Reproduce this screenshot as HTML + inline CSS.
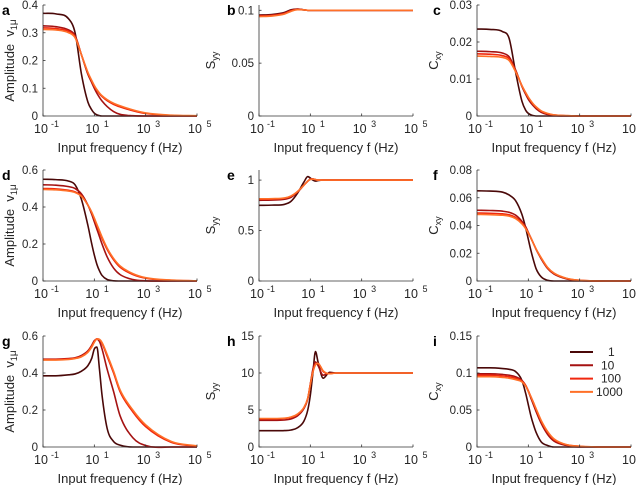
<!DOCTYPE html>
<html><head><meta charset="utf-8"><style>
body{margin:0;background:#fff;}
svg{display:block;font-family:"Liberation Sans",sans-serif;}
</style></head><body>
<svg id="fig" width="640" height="485" viewBox="0 0 640 485"></svg>
<script>
const logFreqs = [-1,-0.5,0,0.25,0.5,0.75,0.9,1,1.1,1.2,1.3,1.5,1.75,2,2.5,3,4,5];
const seriesNames = ['1','10','100','1000'];
const colors = ['#4a0808','#a51212','#f0280f','#ff7028'];
const a1=[.37,.368,.35,.3,.15,.05,.022,.01,.004,.001,0,0,0,0,0,0,0,0];
const a10=[.325,.322,.31,.29,.22,.15,.12,.1,.082,.067,.054,.034,.016,.006,.001,0,0,0];
const a100=[.318,.315,.305,.285,.22,.155,.125,.107,.092,.08,.07,.055,.042,.033,.019,.009,.002,0];
const a1000=[.312,.31,.3,.282,.22,.157,.128,.11,.095,.083,.073,.059,.046,.037,.022,.011,.003,.001];
const b1=[.0955,.096,.098,.1005,.1012,.1003,.1,.1,.1,.1,.1,.1,.1,.1,.1,.1,.1,.1];
const b10=[.095,.0955,.0975,.1,.101,.1005,.1,.1,.1,.1,.1,.1,.1,.1,.1,.1,.1,.1];
const b100=[.0945,.095,.097,.0995,.1008,.1004,.1,.1,.1,.1,.1,.1,.1,.1,.1,.1,.1,.1];
const b1000=[.094,.0945,.0965,.099,.1006,.1004,.1,.1,.1,.1,.1,.1,.1,.1,.1,.1,.1,.1];
const c1=[.0235,.0234,.0228,.021,.012,.004,.0015,.0007,.0003,.0001,0,0,0,0,0,0,0,0];
const c10=[.0175,.0174,.017,.016,.0125,.008,.0058,.0045,.0035,.0027,.002,.001,.0004,.0001,0,0,0,0];
const c100=[.0168,.0167,.0163,.0155,.0122,.0082,.0062,.005,.004,.0031,.0024,.0013,.0006,.0003,.0001,0,0,0];
const c1000=[.0162,.0161,.0158,.015,.012,.0082,.0063,.0051,.0041,.0032,.0025,.0014,.0007,.0003,.0001,0,0,0];
const d1=[.55,.548,.54,.52,.44,.3,.2,.14,.09,.055,.03,.008,.001,0,0,0,0,0];
const d10=[.52,.518,.51,.5,.47,.41,.36,.32,.28,.24,.2,.13,.07,.035,.008,.001,0,0];
const d100=[.5,.498,.49,.482,.46,.41,.37,.335,.3,.265,.23,.17,.115,.075,.035,.015,.004,.001];
const d1000=[.495,.493,.486,.478,.457,.41,.372,.34,.306,.272,.238,.178,.122,.082,.04,.018,.005,.001];
const e1=[.75,.752,.76,.79,.87,.98,1.035,1.02,1.0,.99,.995,1,1,1,1,1,1,1];
const e10=[.8,.802,.81,.83,.88,.95,.99,1.01,1.012,1.005,1,1,1,1,1,1,1,1];
const e100=[.81,.812,.82,.84,.885,.95,.99,1.008,1.01,1.005,1,1,1,1,1,1,1,1];
const e1000=[.815,.816,.823,.843,.887,.95,.99,1.006,1.01,1.005,1,1,1,1,1,1,1,1];
const f1=[.065,.0648,.064,.062,.058,.048,.038,.03,.022,.015,.009,.003,.0005,0,0,0,0,0];
const f10=[.051,.0508,.0503,.0495,.0475,.043,.039,.035,.031,.027,.023,.016,.009,.005,.0015,.0003,0,0];
const f100=[.049,.0488,.0484,.0477,.0458,.0418,.038,.0345,.031,.027,.023,.0165,.0095,.0055,.0018,.0005,0,0];
const f1000=[.048,.0478,.0474,.0468,.045,.0412,.0376,.0343,.031,.027,.0232,.0168,.0098,.0057,.0019,.0005,0,0];
const g1=[.385,.385,.39,.395,.41,.44,.48,.53,.54,.42,.28,.1,.03,.01,0,0,0,0];
const g10=[.475,.475,.478,.482,.495,.52,.55,.575,.583,.57,.53,.42,.3,.17,.05,.008,0,0];
const g100=[.473,.473,.476,.48,.49,.515,.545,.57,.585,.58,.56,.49,.4,.3,.19,.11,.025,.004];
const g1000=[.47,.47,.473,.478,.488,.512,.54,.566,.583,.582,.565,.5,.41,.31,.2,.12,.03,.006];
const h1=[2.2,2.2,2.22,2.3,2.6,3.5,5,7,10,12.9,11.5,9.3,10.1,10,10,10,10,10];
const h10=[3.6,3.6,3.65,3.8,4.2,5.2,6.5,8.5,10.5,11.5,11,9.7,10,10,10,10,10,10];
const h100=[3.8,3.8,3.85,4,4.4,5.3,6.6,8.5,10.2,11.2,11.3,10.2,9.9,10,10,10,10,10];
const h1000=[3.85,3.85,3.9,4.05,4.45,5.35,6.6,8.4,10.1,11.1,11.3,10.3,9.9,10,10,10,10,10];
const i1=[.107,.107,.106,.105,.102,.09,.072,.057,.042,.03,.02,.007,.002,0,0,0,0,0];
const i10=[.099,.099,.098,.097,.095,.09,.083,.075,.066,.057,.048,.032,.017,.008,.002,0,0,0];
const i100=[.097,.097,.096,.095,.093,.089,.083,.076,.068,.06,.051,.035,.02,.01,.003,.001,0,0];
const i1000=[.095,.095,.094,.093,.091,.088,.082,.075,.068,.06,.052,.036,.021,.011,.003,.001,0,0];
const ticksA=['0','0.1','0.2','0.3','0.4'];
const ticksB=['0','0.05','0.1'];
const ticksC=['0','0.01','0.02','0.03'];
const ticksD=['0','0.2','0.4','0.6'];
const ticksE=['0','0.5','1'];
const ticksF=['0','0.02','0.04','0.06','0.08'];
const ticksH=['0','5','10','15'];
const ticksI=['0','0.05','0.1','0.15'];
const xTickExps=['-1','1','3','5'];

const NS='http://www.w3.org/2000/svg';
const svg=document.getElementById('fig');
function mk(tag,attrs,parent){const e=document.createElementNS(NS,tag);for(const k in attrs)e.setAttribute(k,attrs[k]);(parent||svg).appendChild(e);return e;}
const colX=[43,259,477], rowY=[5,170,336], W=154, H=111;
function monoPath(px,py){
  const n=px.length,d=[],m=[];
  for(let k=0;k<n-1;k++)d.push((py[k+1]-py[k])/(px[k+1]-px[k]));
  m[0]=d[0];m[n-1]=d[n-2];
  for(let k=1;k<n-1;k++){m[k]=(d[k-1]*d[k]<=0)?0:(d[k-1]+d[k])/2;}
  for(let k=0;k<n-1;k++){if(d[k]===0){m[k]=0;m[k+1]=0;}}
  let s='M'+px[0].toFixed(2)+','+py[0].toFixed(2);
  for(let k=0;k<n-1;k++){const h=(px[k+1]-px[k])/3;
    s+=' C'+(px[k]+h).toFixed(2)+','+(py[k]+m[k]*h).toFixed(2)+' '+(px[k+1]-h).toFixed(2)+','+(py[k+1]-m[k+1]*h).toFixed(2)+' '+px[k+1].toFixed(2)+','+py[k+1].toFixed(2);}
  return s;
}
const panels=[
 {id:'a',c:0,r:0,ymax:0.4,ticks:ticksA,s:[a1,a10,a100,a1000]},
 {id:'b',c:1,r:0,ymax:0.105,ticks:ticksB,s:[b1,b10,b100,b1000]},
 {id:'c',c:2,r:0,ymax:0.03,ticks:ticksC,s:[c1,c10,c100,c1000]},
 {id:'d',c:0,r:1,ymax:0.6,ticks:ticksD,s:[d1,d10,d100,d1000]},
 {id:'e',c:1,r:1,ymax:1.1,ticks:ticksE,s:[e1,e10,e100,e1000]},
 {id:'f',c:2,r:1,ymax:0.08,ticks:ticksF,s:[f1,f10,f100,f1000]},
 {id:'g',c:0,r:2,ymax:0.6,ticks:ticksD,s:[g1,g10,g100,g1000]},
 {id:'h',c:1,r:2,ymax:15,ticks:ticksH,s:[h1,h10,h100,h1000]},
 {id:'i',c:2,r:2,ymax:0.15,ticks:ticksI,s:[i1,i10,i100,i1000]}
];
const letterX=[2,227,433];
const titleX=[14,215,438];
panels.forEach(p=>{
  const x0=colX[p.c],y0=rowY[p.r];
  const g=mk('g',{});
  
  
  const xs=v=>x0+(v+1)/6*W, ys=v=>y0+H-v/p.ymax*H;
  p.s.forEach((arr,k)=>{
    const path=mk('path',{d:monoPath(logFreqs.map(xs),arr.map(ys)),fill:'none',stroke:colors[k],'stroke-width':1.6},g);
    
    
  });
  const ax=mk('path',{d:`M${x0},${y0} V${y0+H} H${x0+W}`,fill:'none',stroke:'#333','stroke-width':0.8},g);
  
  
  p.ticks.forEach(t=>{const v=parseFloat(t),y=ys(v);
    mk('line',{x1:x0,x2:x0+2.5,y1:y,y2:y,stroke:'#333','stroke-width':0.8},g);
    const tx=mk('text',{x:x0-5,y:y+4,'text-anchor':'end','font-size':11.5,fill:'#262626'},g);tx.textContent=t;
    
    
  });
  xTickExps.forEach(e=>{const x=xs(parseFloat(e));
    mk('line',{x1:x,x2:x,y1:y0+H,y2:y0+H-2.5,stroke:'#333','stroke-width':0.8},g);
    const tx=mk('text',{x:x-2,y:y0+H+17,'text-anchor':'middle','font-size':12.5,fill:'#262626'},g);
    tx.textContent='10';
    
    
    const sp=mk('text',{x:x+12,y:y0+H+11,'text-anchor':'middle','font-size':9,fill:'#262626'},g);sp.textContent=e;
  });
  const xl=mk('text',{x:x0+W/2,y:y0+H+36,'text-anchor':'middle','font-size':13,fill:'#262626'},g);
  xl.textContent='Input frequency f (Hz)';
  
  
  const lt=mk('text',{x:letterX[p.c],y:y0+10,'font-size':14,'font-weight':'bold',fill:'#000'},g);
  lt.textContent=p.id;
  
  
  const cy=y0+H/2;
  let lab;
  if(p.c===0){
    lab=mk('text',{transform:`translate(${titleX[0]},${cy}) rotate(-90)`,'text-anchor':'middle','font-size':13,fill:'#262626'},g);
    lab.innerHTML='Amplitude&#160;&#160;v<tspan font-size="9" dy="3">1</tspan><tspan font-size="10" dy="-1">μ</tspan>';
  }else{
    lab=mk('text',{transform:`translate(${titleX[p.c]},${cy}) rotate(-90)`,'text-anchor':'middle','font-size':13,fill:'#262626'},g);
    lab.innerHTML=(p.c===1?'S':'C')+'<tspan font-size="9" dy="3">'+(p.c===1?'yy':'xy')+'</tspan>';
  }
  
  
});
const lg=mk('g',{});


seriesNames.forEach((nm,k)=>{const y=352+k*13.3;
  mk('line',{x1:570,x2:593,y1:y,y2:y,stroke:colors[k],'stroke-width':2},lg);
  const t=mk('text',{x:k==0?608:(k<3?601:596),y:y+4,'font-size':12,fill:'#262626'},lg);t.textContent=nm;
  
  
});
</script>
</body></html>
